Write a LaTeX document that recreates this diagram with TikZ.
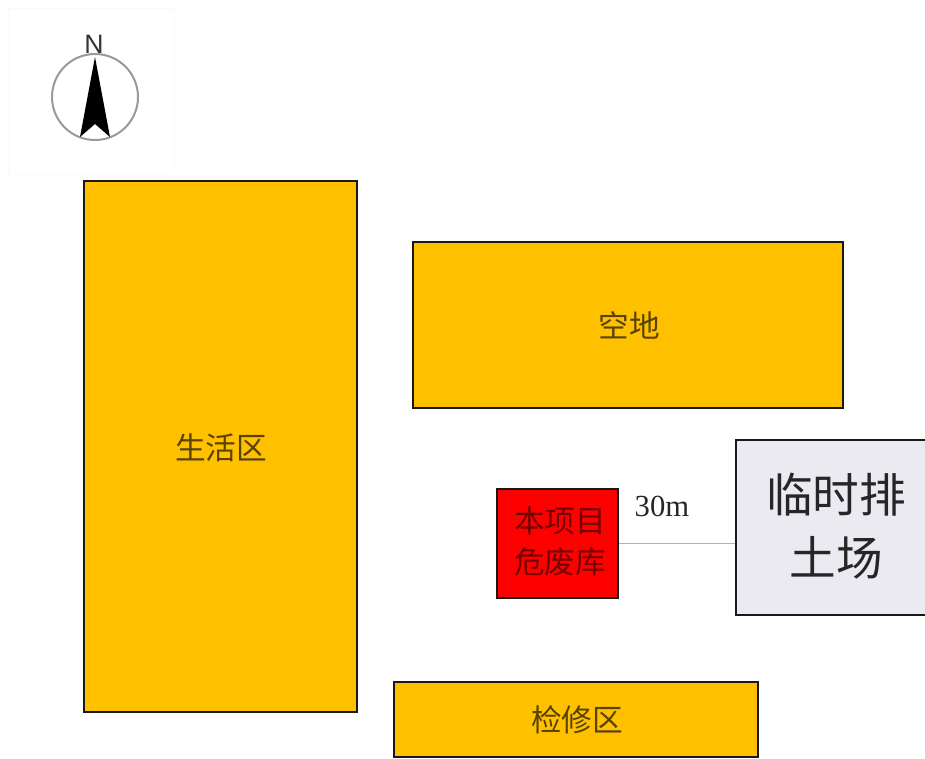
\documentclass[tikz,border=0pt]{standalone}
\usepackage{fontspec}
\setmainfont{Liberation Serif}
\newfontfamily\cjk{Noto Sans CJK SC}
\newfontfamily\arialfont{Liberation Sans}
\definecolor{zoneyellow}{RGB}{255,192,0}
\definecolor{dumpgrey}{RGB}{234,234,240}
\tikzset{
    zone/.style={draw=black!90, line width=1.8pt, fill=zoneyellow, inner sep=0pt},
    zonelabel/.style={inner sep=0pt, text=black!65!zoneyellow, font=\cjk\fontsize{23}{28}\selectfont},
}
\begin{document}
\begin{tikzpicture}[x=0.75pt, y=-0.75pt]
    \useasboundingbox (0,0) rectangle (925,758);

    % Draw north arrow
    \node[draw=black!2, minimum width=124.5pt, minimum height=124.5pt, inner sep=0pt] (frame) at (91,91) {};
    \node[draw=black!40, line width=1.5pt, circle, minimum size=64.5pt, inner sep=0pt] (compass) at (95,97) {};
    \fill[black] (95,57) -- (110,137) -- (95,124) -- (80,137) -- cycle;
    \node[font=\arialfont\fontsize{20}{24}\selectfont, text=black!80, inner sep=0pt] (north) at (94,44) {N};

    % Draw zones
    \node[zone, minimum width=204.75pt, minimum height=398.25pt] (living) at (220.5,446.5) {};
    \node[zonelabel] (livinglabel) at (221,448) {生活区};
    \node[zone, minimum width=322.5pt, minimum height=124.5pt] (vacant) at (628,325) {};
    \node[zonelabel] (vacantlabel) at (629,325) {空地};
    \node[zone, minimum width=273pt, minimum height=56.25pt] (repair) at (576,719.5) {};
    \node[zonelabel] (repairlabel) at (577,720) {检修区};

    % Draw waste store and dump
    \node[zone, fill=red, minimum width=90.75pt, minimum height=81.75pt] (store) at (557.5,543.5) {};
    \node[align=center, inner sep=0pt, text=black!55!red, font=\cjk\fontsize{23}{30.75}\selectfont] (storelabel) at (560,541) {本项目\\危废库};
    \node[zone, fill=dumpgrey, minimum width=144pt, minimum height=131.25pt] (dump) at (832,527.5) {};
    \node[align=center, inner sep=0pt, text=black!85, font=\cjk\fontsize{35}{47}\selectfont] (dumplabel) at (836,526) {临时排\\土场};

    % Draw distance line
    \draw[black!30, line width=0.8pt] (store.east) -- (store.east -| dump.west);
    \node[inner sep=0pt, text=black!85, font=\fontsize{23}{26}\selectfont] (distance) at (662,506) {30m};
\end{tikzpicture}
\end{document}
